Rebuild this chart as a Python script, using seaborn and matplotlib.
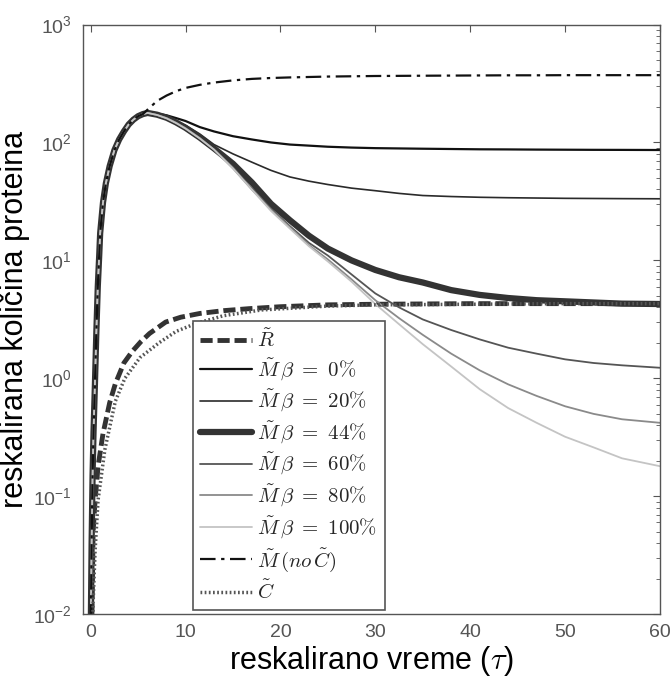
import matplotlib
matplotlib.use("Agg")
import matplotlib.pyplot as plt
import seaborn as sns
import pandas as pd
from matplotlib.ticker import LogLocator, NullFormatter

# shared rise of all M curves
tau_rise = [0.02, 0.1, 0.2, 0.3, 0.45, 0.6, 0.75, 0.9, 1.0, 1.3, 1.6, 2.0,
            2.5, 3.0, 3.5, 4.0, 4.5, 5.0, 5.5]
m_rise = [0.009, 0.04, 0.15, 0.35, 0.9, 2.5, 6, 11, 17, 31, 45, 63,
          86, 106, 124, 142, 156, 167, 174]

tau_decay = [6, 7, 8, 9, 10, 11.5, 13, 15, 17, 19, 21, 23, 25, 27.5, 30,
             32.5, 35, 38, 41, 44, 47, 50, 53, 56, 60]
m_noC = [190, 225, 250, 272, 290, 308, 322, 336, 346, 352, 356, 359, 362,
         364, 366, 367, 368, 369, 370, 371, 371, 372, 372, 372, 372]
m_b0 = [178, 176, 170, 161, 152, 135, 124, 113, 106, 100, 96, 94, 92,
        90.5, 89.5, 89, 88.5, 88, 87.5, 87.3, 87, 86.8, 86.6, 86.5, 86.3]
m_b20 = [178, 172, 163, 151, 140, 118, 96, 80, 68, 58, 51, 47, 44, 41,
         39, 37, 35.5, 34.8, 34.3, 34, 33.8, 33.6, 33.5, 33.4, 33.3]
m_b44 = [178, 172, 162, 148, 133, 110, 89, 66, 45.7, 30.2, 21.9, 16.2,
         12.6, 10.0, 8.3, 7.2, 6.5, 5.6, 5.1, 4.8, 4.6, 4.5, 4.4, 4.3, 4.27]
m_b60 = [178, 171, 161, 147, 132, 109, 87, 61.7, 40.7, 27.5, 19.5, 14.1,
         11.0, 7.6, 5.25, 4.0, 3.16, 2.57, 2.14, 1.82, 1.62, 1.45, 1.35,
         1.29, 1.23]
m_b80 = [178, 171, 161, 147, 132, 109, 87, 60.3, 39.8, 26.9, 19.1, 13.5,
         10.2, 6.9, 4.6, 3.24, 2.34, 1.62, 1.17, 0.89, 0.71, 0.58, 0.5,
         0.45, 0.42]
m_b100 = [178, 171, 160, 146, 131, 108, 87, 60.3, 39.8, 26.3, 18.6, 13.2,
          9.8, 6.6, 4.27, 2.88, 1.95, 1.26, 0.81, 0.56, 0.42, 0.32, 0.26,
          0.21, 0.18]

tau_r = [0.1, 0.15, 0.26, 0.47, 0.78, 1.3, 2.0, 2.6, 3.5, 4.4, 5.3, 6.2,
         7.9, 9.5, 11.5, 14, 16.7, 20, 25, 30, 40, 50, 60]
r_vals = [0.007, 0.012, 0.05, 0.093, 0.18, 0.34, 0.62, 0.9, 1.35, 1.7,
          2.05, 2.4, 3.0, 3.3, 3.55, 3.75, 3.9, 4.05, 4.2, 4.25, 4.3, 4.3, 4.3]

tau_c = [0.2, 0.26, 0.47, 0.78, 1.5, 2.6, 3.6, 5.2, 7.2, 9, 11, 14, 18,
         25, 30, 40, 50, 60]
c_vals = [0.007, 0.0126, 0.035, 0.093, 0.25, 0.64, 1.0, 1.5, 2.0, 2.5,
          2.9, 3.4, 3.8, 4.1, 4.2, 4.25, 4.3, 4.3]

labels = [r"$\tilde{R}$", r"$\tilde{M}\,\beta\ =\ 0\%$",
          r"$\tilde{M}\,\beta\ =\ 20\%$", r"$\tilde{M}\,\beta\ =\ 44\%$",
          r"$\tilde{M}\,\beta\ =\ 60\%$", r"$\tilde{M}\,\beta\ =\ 80\%$",
          r"$\tilde{M}\,\beta\ =\ 100\%$", r"$\tilde{M}\,(no\,\tilde{C})$",
          r"$\tilde{C}$"]


def m_frame(decay):
    return pd.DataFrame({"tau": tau_rise + tau_decay, "val": m_rise + decay})


def main():
    sns.set_style("white")
    plt.rcParams["font.family"] = ["Liberation Sans", "DejaVu Sans"]
    plt.rcParams["mathtext.fontset"] = "cm"

    fig = plt.figure(figsize=(6.7, 6.81), dpi=100)
    ax = fig.add_axes([0.124, 0.098, 0.861, 0.866])

    r_df = pd.DataFrame({"tau": tau_r, "val": r_vals})
    c_df = pd.DataFrame({"tau": tau_c, "val": c_vals})

    series = [
        (r_df, "#333333", 3.5, (0, (2.5, 1.0))),
        (m_frame(m_b0), "#111111", 1.6, "-"),
        (m_frame(m_b20), "#2a2a2a", 1.2, "-"),
        (m_frame(m_b44), "#333333", 4.5, "-"),
        (m_frame(m_b60), "#555555", 1.3, "-"),
        (m_frame(m_b80), "#8a8a8a", 1.3, "-"),
        (m_frame(m_b100), "#c4c4c4", 1.3, "-"),
        (m_frame(m_noC), "#111111", 1.6, (0, (7, 2.5, 1.5, 2.5))),
        (c_df, "#555555", 2.5, (0, (0.5, 0.7))),
    ]
    for (df, color, lw, ls), lab in zip(series, labels):
        sns.lineplot(data=df, x="tau", y="val", ax=ax, color=color, lw=lw,
                     linestyle=ls, label=lab, sort=False, estimator=None)

    ax.set_yscale("log")
    ax.set_xlim(-0.8, 60)
    ax.set_ylim(1e-2, 1e3)
    ax.set_xticks([0, 10, 20, 30, 40, 50, 60])
    ax.yaxis.set_major_locator(LogLocator(base=10, numticks=10))
    ax.yaxis.set_minor_locator(LogLocator(base=10, subs=range(2, 10), numticks=50))
    ax.yaxis.set_minor_formatter(NullFormatter())

    ax.tick_params(which="both", direction="in", top=True, right=True,
                   colors="#555555", labelsize=14)
    ax.tick_params(which="major", length=5)
    ax.tick_params(which="minor", length=3)
    ax.tick_params(axis="x", pad=7)
    ax.tick_params(axis="y", pad=8)
    for s in ax.spines.values():
        s.set_color("#555555")
        s.set_linewidth(1.0)

    ax.set_xlabel(r"reskalirano vreme ($\tau$)", fontsize=22, color="black",
                  labelpad=2)
    ax.set_ylabel("reskalirana količina proteina", fontsize=22, color="black",
                  labelpad=2)

    leg = ax.legend(loc="lower left", bbox_to_anchor=(0.19, 0.007), fontsize=15,
                    frameon=True, fancybox=False, handlelength=2.5,
                    handletextpad=0.25, labelspacing=0.26, borderpad=0.35,
                    borderaxespad=0.0)
    leg.get_frame().set_edgecolor("#555555")
    leg.get_frame().set_linewidth(1.2)
    leg.get_frame().set_alpha(1.0)

    fig.savefig("out.png", dpi=100)


if __name__ == "__main__":
    main()
